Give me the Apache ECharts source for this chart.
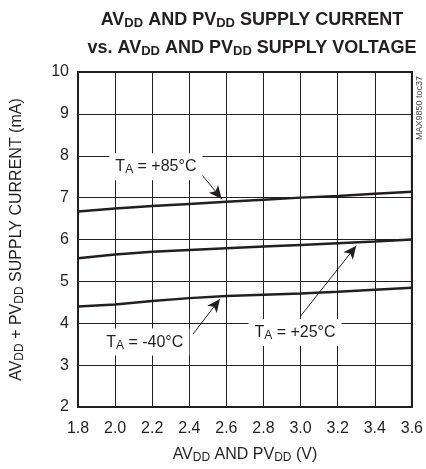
<!DOCTYPE html>
<html>
<head>
<meta charset="utf-8">
<script src="https://cdn.jsdelivr.net/npm/echarts@6/dist/echarts.min.js"></script>
<style>
  html, body { margin: 0; padding: 0; background: #fff; }
  #chart { width: 426px; height: 469px; }
</style>
</head>
<body>
<div id="chart"></div>
<script>
// supply voltage (V)
var voltage = [1.8, 2.0, 2.2, 2.4, 2.6, 2.8, 3.0, 3.2, 3.4, 3.6];
// supply current (mA) per ambient temperature
var cur85 = [6.67, 6.74, 6.80, 6.85, 6.90, 6.95, 7.00, 7.04, 7.09, 7.14];
var cur25 = [5.55, 5.64, 5.71, 5.75, 5.79, 5.83, 5.87, 5.91, 5.95, 6.00];
var curM40 = [4.40, 4.45, 4.53, 4.60, 4.65, 4.68, 4.71, 4.75, 4.80, 4.85];
var yTicks = [2, 3, 4, 5, 6, 7, 8, 9, 10];

var FONT = '"Liberation Sans", Arial, sans-serif';
var INK = '#231f20';

function pairs(ys) {
  return voltage.map(function (v, i) { return [v, ys[i]]; });
}

var subRich = {
  n: { fontSize: 16, fontFamily: FONT, color: INK },
  s: { fontSize: 12, fontFamily: FONT, color: INK, padding: [7, 0, 0, 0] }
};
var titleRich = {
  b: { fontSize: 18, fontWeight: 'bold', fontFamily: FONT, color: INK, lineHeight: 28 },
  s: { fontSize: 13, fontWeight: 'bold', fontFamily: FONT, color: INK, padding: [7, 0, 0, 0], lineHeight: 28 }
};

function tempLabel(t) {
  return '{n|T}{s|A}{n| = ' + t + '°C}';
}

function arrow(from, to) {
  return [{ coord: from }, { coord: to }];
}

function labelPoint(coord, text) {
  return {
    coord: coord,
    symbol: 'circle',
    symbolSize: 1,
    itemStyle: { color: 'rgba(0,0,0,0)' },
    label: {
      show: true,
      position: 'inside',
      formatter: text,
      backgroundColor: '#fff',
      padding: [4, 6, 4, 6],
      rich: subRich
    }
  };
}

var chart = echarts.init(document.getElementById('chart'));
var option = {
  backgroundColor: '#fff',
  animation: false,
  title: {
    text: '{b|AV}{s|DD}{b| AND PV}{s|DD}{b| SUPPLY CURRENT}\n{b|vs. AV}{s|DD}{b| AND PV}{s|DD}{b| SUPPLY VOLTAGE}',
    left: 247,
    top: 1,
    textAlign: 'center',
    textStyle: { rich: titleRich }
  },
  grid: {
    left: 78, right: 10, top: 72, bottom: 61,
    show: true,
    borderColor: INK,
    borderWidth: 2
  },
  xAxis: {
    type: 'value',
    min: 1.8, max: 3.6, interval: 0.2,
    name: '{n|AV}{s|DD}{n| AND PV}{s|DD}{n| (V)}',
    nameLocation: 'middle',
    nameGap: 38,
    nameTextStyle: { rich: subRich },
    axisLine: { show: false },
    axisTick: { show: false },
    axisLabel: {
      color: INK, fontSize: 16, fontFamily: FONT, margin: 14,
      formatter: function (v) { return v.toFixed(1); }
    },
    splitLine: { lineStyle: { color: INK, width: 1 } }
  },
  yAxis: {
    type: 'value',
    min: yTicks[0], max: yTicks[yTicks.length - 1], interval: 1,
    name: '{n|AV}{s|DD}{n| + PV}{s|DD}{n| SUPPLY CURRENT (mA)}',
    nameLocation: 'middle',
    nameRotate: 90,
    nameGap: 52,
    nameTextStyle: { rich: subRich },
    axisLine: { show: false },
    axisTick: { show: false },
    axisLabel: { color: INK, fontSize: 16, fontFamily: FONT, margin: 9 },
    splitLine: { lineStyle: { color: INK, width: 1 } }
  },
  series: [
    {
      name: '+85', type: 'line', data: pairs(cur85), showSymbol: false,
      lineStyle: { color: INK, width: 2.5 },
      markLine: {
        silent: true, symbol: ['none', 'arrow'], symbolSize: [9, 13],
        label: { show: false },
        lineStyle: { color: INK, width: 1, type: 'solid' },
        data: [
          arrow([2.45, 7.64], [2.575, 6.97]),
          arrow([2.42, 3.74], [2.565, 4.58]),
          arrow([3.0, 4.17], [3.30, 5.85])
        ]
      },
      markPoint: {
        silent: true,
        data: [
          labelPoint([2.22, 7.74], tempLabel('+85')),
          labelPoint([2.16, 3.55], tempLabel('-40')),
          labelPoint([2.97, 3.78], tempLabel('+25'))
        ]
      }
    },
    {
      name: '+25', type: 'line', data: pairs(cur25), showSymbol: false,
      lineStyle: { color: INK, width: 2.5 }
    },
    {
      name: '-40', type: 'line', data: pairs(curM40), showSymbol: false,
      lineStyle: { color: INK, width: 2.5 }
    }
  ],
  graphic: [{
    type: 'text',
    x: 424, y: 108,
    rotation: Math.PI / 2,
    style: {
      text: 'MAX9850 toc37',
      fontSize: 9,
      fontFamily: FONT,
      fill: '#444',
      align: 'center',
      verticalAlign: 'bottom'
    }
  }]
};
chart.setOption(option);
</script>
</body>
</html>
